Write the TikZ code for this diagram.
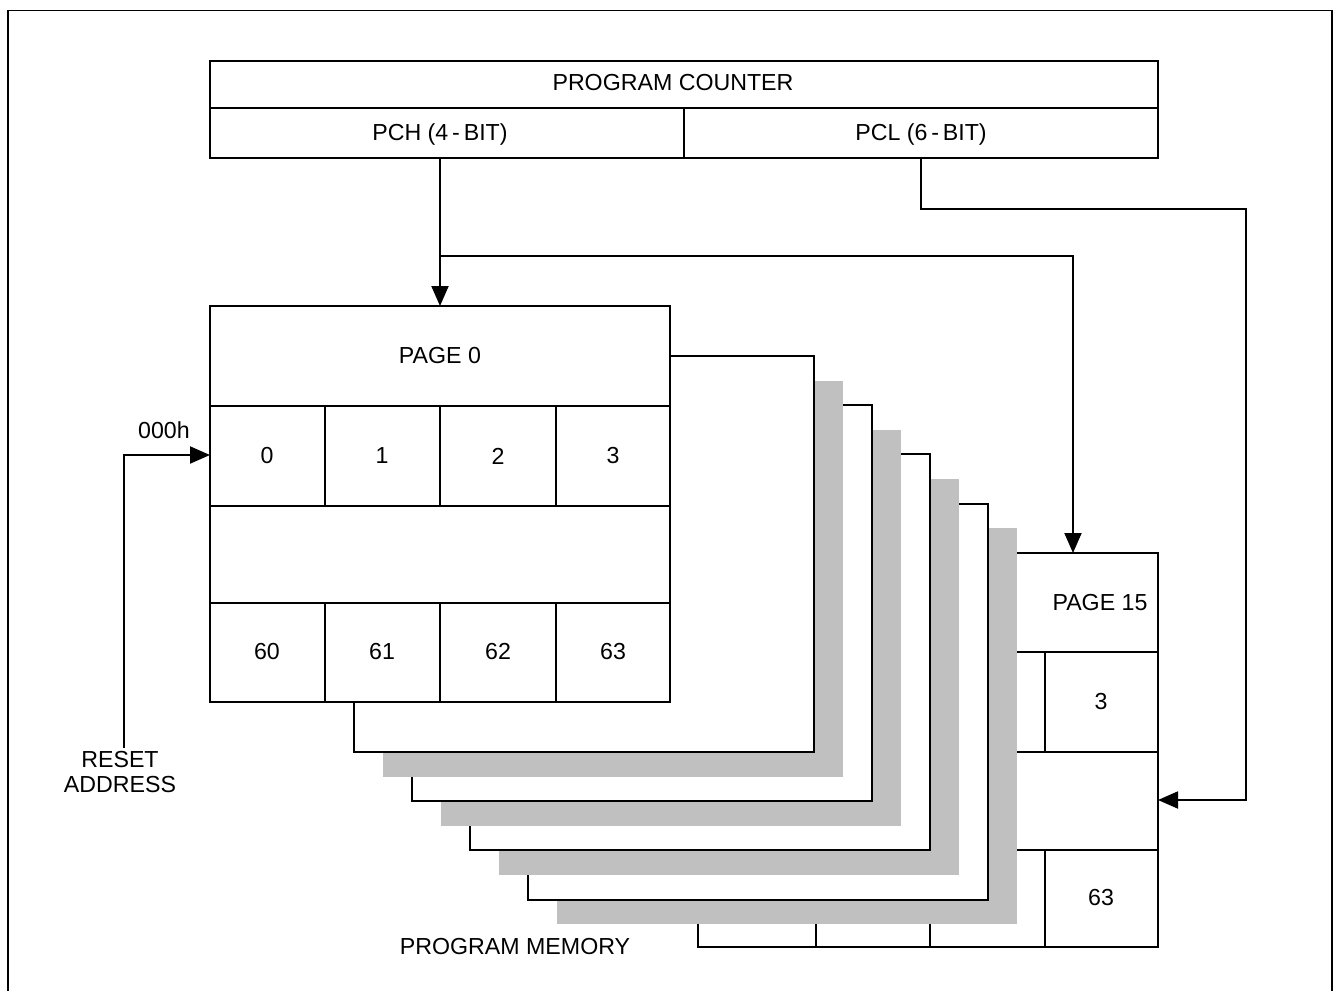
\documentclass[tikz,border=0pt]{standalone}
\usepackage{fontspec}
\setmainfont{Liberation Sans}
\usepackage{xcolor}
\usetikzlibrary{arrows.meta}
\definecolor{shadegray}{RGB}{192,192,192}

\begin{document}
\begin{tikzpicture}[x=0.02cm, y=-0.02cm, line width=1.1pt,
  font=\fontsize{13.2}{14.7}\selectfont,
  sheet/.style={fill=white, draw=black},
  shade/.style={fill=shadegray, draw=none},
  lbl/.style={inner sep=0pt},
  arr/.style={-{Triangle[length=0.4cm, width=0.34cm]}}]
\useasboundingbox (0,0) rectangle (1336,991);
\draw (8,10.5) rectangle (1332,1010);

% program counter
\draw (210,61) rectangle (1158,158);
\draw (210,108) -- (1158,108);
\draw (684,108) -- (684,158);
\node[lbl] (pc) at (673,83) {PROGRAM COUNTER};
\node[lbl] (pch) at (440,134) {PCH (4\,-\,BIT)};
\node[lbl] (pcl) at (921,134) {PCL (6\,-\,BIT)};
\coordinate (pchout) at (440,158);
\coordinate (pclout) at (921,158);

% page 15, at the back
\draw[sheet] (698,553) rectangle (1158,947);
\foreach \y in {652,752,850} \draw (698,\y) -- (1158,\y);
\foreach \x in {816,930,1045} {
  \draw (\x,652) -- (\x,752);
  \draw (\x,850) -- (\x,947);
}
\node[lbl] (p15) at (1100,603) {PAGE 15};
\node[lbl] (d3) at (1101,702) {3};
\node[lbl] (d63) at (1101,898) {63};

% stacked pages in between
\foreach \k/\sty in {7/shade,6/sheet,5/shade,4/sheet,3/shade,2/sheet,1/shade,0/sheet}
  \draw[\sty] ({354+29*\k},{356+24.6*\k}) rectangle +(460,396);

% page 0, in front
\draw[sheet] (210,306) rectangle (670,702);
\foreach \y in {406,506,603} \draw (210,\y) -- (670,\y);
\foreach \x in {325,440,556} {
  \draw (\x,406) -- (\x,506);
  \draw (\x,603) -- (\x,702);
}
\node[lbl] (p0) at (440,356) {PAGE 0};
\foreach \t/\x in {0/267,1/382,2/498,3/613}
  \node[lbl] (c\t) at (\x,456) {\t};
\foreach \t/\x in {60/267,61/382,62/498,63/613}
  \node[lbl] (c\t) at (\x,652) {\t};

% connectors
\coordinate (p0in) at (440,306);
\coordinate (fork) at (440,256);
\coordinate (p15in) at (1073,553);
\coordinate (bend) at (1246,209);
\coordinate (p15side) at (1158,800);
\coordinate (resetin) at (210,455);
\coordinate (resetfoot) at (124,748);
\draw[arr] (pchout) -- (p0in);
\draw[arr] (fork) -| (p15in);
\draw[arr] (pclout) |- (bend) |- (p15side);
\draw[arr] (resetfoot) |- (resetin);

% labels
\node[lbl] (org) at (164,430) {000h};
\node[lbl, align=center] (reset) at (120,772) {RESET\\ADDRESS};
\node[lbl] (mem) at (515,947) {PROGRAM MEMORY};
\end{tikzpicture}
\end{document}
